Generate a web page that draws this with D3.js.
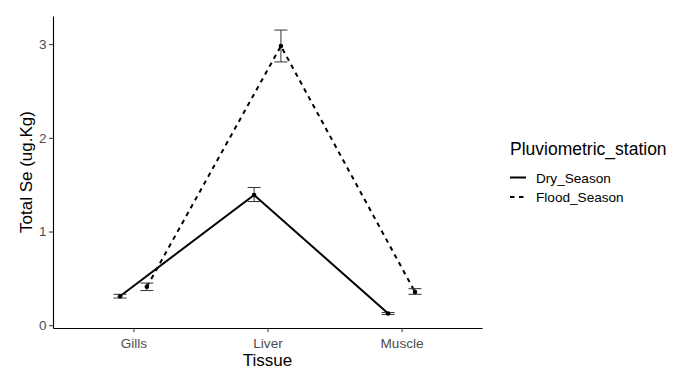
<!DOCTYPE html>
<html>
<head>
<meta charset="UTF-8">
<script src="https://cdn.jsdelivr.net/npm/d3@7"></script>
<style>
body{ margin:0; background:#fff; }
text{ font-family:"Liberation Sans", Arial, sans-serif; }
</style>
</head>
<body>
<script>
// values
var tissues = ["Gills", "Liver", "Muscle"]
var seasons = ["Dry_Season", "Flood_Season"]
var dryMean  = [0.31, 1.39, 0.125]
var dryLo    = [0.29, 1.32, 0.115]
var dryHi    = [0.33, 1.47, 0.135]
var floodMean = [0.41, 2.98, 0.355]
var floodLo   = [0.37, 2.81, 0.33]
var floodHi   = [0.45, 3.15, 0.39]
var yTicks = [0, 1, 2, 3]

var width = 682, height = 370
var padL = 53, padR = 482, padT = 16, padB = 328

var series = [
  {name: seasons[0], mean: dryMean, lo: dryLo, hi: dryHi, dash: null, off: -0.1},
  {name: seasons[1], mean: floodMean, lo: floodLo, hi: floodHi, dash: "4.5,4.5", off: 0.1}
]

var svg = d3.select("body").append("svg")
    .attr("width", width)
    .attr("height", height)

// discrete x axis, ggplot style expansion of 0.6
var xi = d3.scaleLinear().domain([0.4, 3.6]).range([padL, padR])
var y = d3.scaleLinear().domain([-0.0296, 3.3]).range([padB, padT])

// axes
var xAxis = svg.append("g")
    .attr("transform", "translate(0," + padB + ")")
    .call(d3.axisBottom(xi).tickValues([1, 2, 3]).tickFormat(d => tissues[d - 1]).tickSize(4).tickSizeOuter(0))
xAxis.select(".domain").attr("stroke", "#000").attr("stroke-width", 1.1)
xAxis.selectAll(".tick line").attr("stroke", "#333")
xAxis.selectAll(".tick text").attr("fill", "#4d4d4d").attr("font-size", 13.6)
  .attr("y", 19.5).attr("dy", 0)
  .style("font-family", "'Liberation Sans', Arial, sans-serif")

var yAxis = svg.append("g")
    .attr("transform", "translate(" + padL + ",0)")
    .call(d3.axisLeft(y).tickValues(yTicks).tickFormat(d3.format("d")).tickSize(4).tickSizeOuter(0))
yAxis.select(".domain").attr("stroke", "#000").attr("stroke-width", 1.1)
yAxis.selectAll(".tick line").attr("stroke", "#333")
yAxis.selectAll(".tick text").attr("fill", "#4d4d4d").attr("font-size", 13.6).attr("x", -6.5)
  .style("font-family", "'Liberation Sans', Arial, sans-serif")

// lines, error bars, points
var line = d3.line()
    .x((d, i) => xi(i + 1 + d.off))
    .y(d => y(d.v))

series.forEach(function(s){
  var pts = s.mean.map(v => ({v: v, off: s.off}))
  svg.append("path")
    .datum(pts)
    .attr("d", line)
    .attr("fill", "none")
    .attr("stroke", "#000")
    .attr("stroke-width", 2)
    .attr("stroke-dasharray", s.dash)

  var g = svg.append("g").selectAll("g")
    .data(s.mean.map((v, i) => ({i: i, lo: s.lo[i], hi: s.hi[i], v: v})))
    .enter().append("g")
  g.append("line")
    .attr("x1", d => xi(d.i + 1 + s.off)).attr("x2", d => xi(d.i + 1 + s.off))
    .attr("y1", d => y(d.lo)).attr("y2", d => y(d.hi))
    .attr("stroke", "#333").attr("stroke-width", 1)
  g.append("line")
    .attr("x1", d => xi(d.i + 1 + s.off) - 6.5).attr("x2", d => xi(d.i + 1 + s.off) + 6.5)
    .attr("y1", d => y(d.lo)).attr("y2", d => y(d.lo))
    .attr("stroke", "#333").attr("stroke-width", 1)
  g.append("line")
    .attr("x1", d => xi(d.i + 1 + s.off) - 6.5).attr("x2", d => xi(d.i + 1 + s.off) + 6.5)
    .attr("y1", d => y(d.hi)).attr("y2", d => y(d.hi))
    .attr("stroke", "#333").attr("stroke-width", 1)
  g.append("circle")
    .attr("cx", d => xi(d.i + 1 + s.off))
    .attr("cy", d => y(d.v))
    .attr("r", 2.3)
    .attr("fill", "#000")
})

// axis titles
svg.append("text")
    .attr("x", (padL + padR) / 2)
    .attr("y", 366)
    .attr("text-anchor", "middle")
    .attr("font-size", 17)
    .attr("fill", "#000")
    .text("Tissue")

svg.append("text")
    .attr("transform", "translate(32," + ((padT + padB) / 2) + ") rotate(-90)")
    .attr("text-anchor", "middle")
    .attr("font-size", 17)
    .attr("fill", "#000")
    .text("Total Se (ug.Kg)")

// legend
var lg = svg.append("g").attr("transform", "translate(510,0)")
lg.append("text")
    .attr("x", 0).attr("y", 155)
    .attr("font-size", 17.5)
    .attr("fill", "#000")
    .text("Pluviometric_station")

lg.selectAll(".key")
  .data(series)
  .enter().append("g")
  .each(function(s, i){
    var yy = 177.5 + i * 19.5
    d3.select(this).append("line")
      .attr("x1", 0).attr("x2", 16)
      .attr("y1", yy).attr("y2", yy)
      .attr("stroke", "#000").attr("stroke-width", 2)
      .attr("stroke-dasharray", s.dash)
    d3.select(this).append("text")
      .attr("x", 26).attr("y", yy + 5)
      .attr("font-size", 13.6)
      .attr("fill", "#000")
      .text(s.name)
  })
</script>
</body>
</html>
